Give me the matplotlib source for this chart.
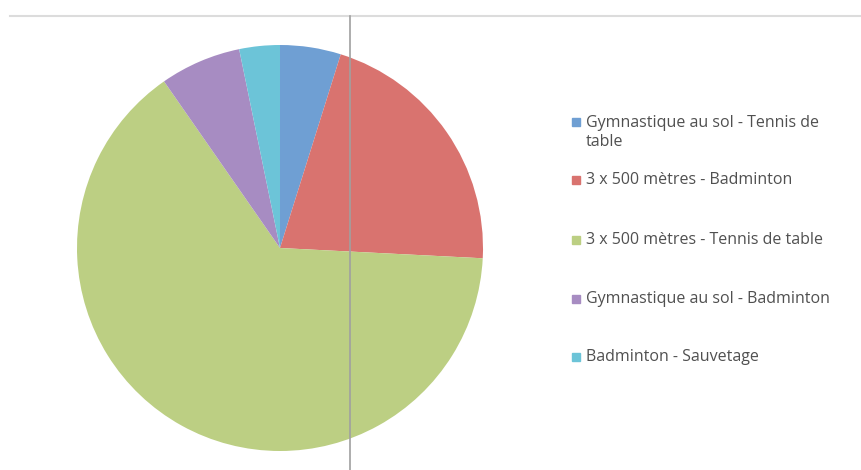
import matplotlib.pyplot as plt
from matplotlib.patches import Rectangle

# ── données ────────────────────────────────────────────
LABELS = [
    "Gymnastique au sol - Tennis de\ntable",
    "3 x 500 mètres - Badminton",
    "3 x 500 mètres - Tennis de table",
    "Gymnastique au sol - Badminton",
    "Badminton - Sauvetage",
]
VALUES = [3, 13, 40, 4, 2]
COLORS = ["#6f9fd3", "#d9736f", "#bccf83", "#a78cc2", "#6cc4d8"]

W, H = 862, 470
fig = plt.figure(figsize=(W / 100, H / 100), dpi=100)
ax = fig.add_axes([0, 0, 1, 1])

# ── camembert ─────────────────────────────────────────
ax.pie(VALUES, colors=COLORS, startangle=90, counterclock=False,
       center=(280, H - 248), radius=203, frame=True,
       wedgeprops={"linewidth": 0})
ax.set_xlim(0, W)
ax.set_ylim(0, H)
ax.set_aspect("equal")
ax.axis("off")

# ── lignes de cadre ───────────────────────────────────
ax.plot([10, W], [H - 16, H - 16], color="#dcdcdc", lw=1.5, zorder=5)
ax.plot([350, 350], [0, H - 16], color="#a0a0a0", lw=1.2, zorder=5)

# ── légende ───────────────────────────────────────────
legend_y = [122, 180, 240, 299, 357]
for lab, col, y in zip(LABELS, COLORS, legend_y):
    ax.add_patch(Rectangle((572, H - y - 4), 8, 8, color=col, zorder=6))
    nlines = lab.count("\n") + 1
    ax.text(586, H - y - 10.5 * (nlines - 1), lab, fontsize=11.5,
            color="#505050", va="center", linespacing=1.3,
            family="Open Sans")

fig.savefig("out.png", dpi=100, facecolor="white")
